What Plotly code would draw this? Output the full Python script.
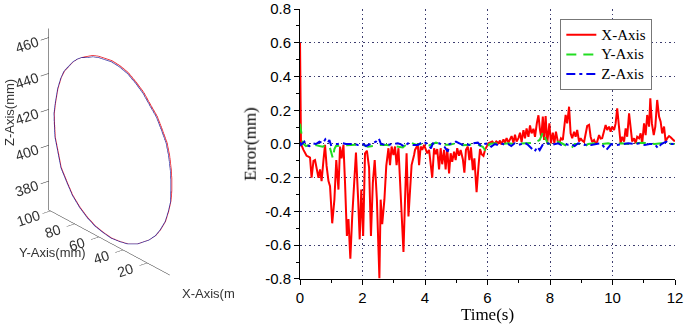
import plotly.graph_objects as go

# ---------------- 3D trajectory (left panel) ----------------
ref_y = [72.8, 68.2, 63.4, 52.6, 45.9, 39.15, 32.4, 26.0, 20.2, 14.9,
         10.9, 6.8, 4.6, 3.3, 2.8, 2.8, 3.6, 5.5, 8.1, 12.2,
         16.2, 21.6, 31.1, 39.15, 45.9, 52.6, 59.3, 66.0, 72.5, 78.8,
         84.8, 89.6, 94.3, 97.0, 99.2, 99.8, 100.0, 98.95, 97.0, 94.3,
         91.7, 87.6, 84.4, 80.85, 77.4, 72.8]
ref_z = [459.2, 461.4, 462.7, 464.2, 463.8, 462.5, 459.5, 456.0, 451.0, 446.7,
         441.2, 435.0, 428.4, 421.3, 415.7, 409.9, 403.5, 397.2, 390.7, 384.6,
         379.9, 375.5, 369.9, 367.0, 365.9, 365.3, 366.0, 367.2, 369.6, 373.0,
         377.6, 383.4, 389.6, 398.0, 404.7, 412.1, 417.7, 423.9, 432.5, 439.5,
         444.1, 448.6, 452.0, 454.8, 456.9, 459.2]
act_y = [72.5, 67.9, 63.2, 52.6, 46.0, 39.3, 32.6, 26.3, 20.6, 15.4,
         11.4, 7.3, 5.2, 3.9, 3.4, 3.4, 3.6, 5.5, 8.1, 12.2,
         16.2, 21.6, 31.1, 39.15, 45.9, 52.6, 59.3, 66.0, 72.5, 78.8,
         84.8, 89.6, 94.3, 97.0, 99.2, 99.8, 100.0, 98.95, 97.0, 94.3,
         91.7, 87.6, 84.4, 80.85, 77.4, 72.5]
act_z = [458.7, 460.8, 462.1, 463.6, 463.2, 461.9, 459.0, 455.5, 450.6, 446.4,
         440.9, 434.7, 428.2, 421.2, 415.7, 410.0, 403.5, 397.2, 390.7, 384.6,
         379.9, 375.5, 369.9, 367.0, 365.9, 365.3, 366.0, 367.2, 369.6, 373.0,
         377.6, 383.4, 389.6, 398.0, 404.7, 412.1, 417.7, 423.9, 432.5, 439.5,
         444.1, 448.6, 452.0, 454.8, 456.9, 458.7]
traj_x = 15.0
y3_ticks = [20, 40, 60, 80, 100]
z3_ticks = [380, 400, 420, 440, 460]

# ---------------- Error curves (right panel) ----------------
t_x = [0, 0.03, 0.11, 0.16, 0.21, 0.27, 0.32, 0.37, 0.43, 0.48,
       0.53, 0.59, 0.64, 0.69, 0.75, 0.80, 0.85, 0.91, 0.96, 1.03,
       1.10, 1.16, 1.23, 1.28, 1.33, 1.39, 1.44, 1.50, 1.55, 1.61,
       1.67, 1.73, 1.79, 1.86, 1.91, 1.96, 2.02, 2.08, 2.14, 2.21,
       2.27, 2.33, 2.39, 2.46, 2.54, 2.58, 2.63, 2.70, 2.76, 2.83,
       2.88, 2.93, 2.99, 3.04, 3.09, 3.15, 3.20, 3.25, 3.31, 3.36,
       3.41, 3.47, 3.52, 3.57, 3.65,
       3.68, 3.77, 3.81, 3.86, 3.91, 3.97, 4.02, 4.07, 4.13, 4.18,
       4.23, 4.29, 4.34, 4.39, 4.45, 4.50, 4.55, 4.61, 4.66, 4.71,
       4.77, 4.82, 4.87, 4.93, 4.98, 5.03, 5.09, 5.14, 5.21, 5.26,
       5.31, 5.37, 5.42, 5.47, 5.53, 5.58, 5.65, 5.71, 5.76, 5.81,
       5.87, 5.92, 5.97, 6.03, 6.09, 6.15, 6.22, 6.28, 6.35, 6.40,
       6.45, 6.51, 6.56, 6.61, 6.67, 6.72, 6.77, 6.83, 6.88, 6.93,
       6.99, 7.04, 7.09, 7.15, 7.20, 7.25, 7.31, 7.36, 7.41, 7.47,
       7.52, 7.58, 7.63, 7.68, 7.72,
       7.77, 7.81, 7.86, 7.91, 7.98, 8.03, 8.09, 8.14, 8.19, 8.25,
       8.30, 8.35, 8.41, 8.45, 8.50, 8.55, 8.61, 8.66, 8.71, 8.77,
       8.82, 8.87, 8.93, 8.98, 9.03, 9.09, 9.14, 9.19, 9.25, 9.30,
       9.35, 9.41, 9.46, 9.51, 9.57, 9.62, 9.67, 9.73, 9.78, 9.83,
       9.89, 9.94, 9.99, 10.05, 10.10, 10.15, 10.21, 10.26, 10.31, 10.37,
       10.42, 10.47, 10.53, 10.58, 10.63, 10.69, 10.74, 10.79, 10.85, 10.90,
       10.95, 11.01, 11.06, 11.11, 11.17, 11.21, 11.26, 11.32, 11.37, 11.43,
       11.49, 11.54, 11.59, 11.65, 11.70, 11.75, 11.81, 11.86, 11.91, 11.97,
       12.0]
err_x = [0.60, 0.0, -0.035, -0.055, -0.07, -0.075, -0.08, -0.20, -0.10, -0.095,
         -0.14, -0.20, -0.15, -0.22, -0.095, -0.005, -0.13, -0.22, -0.25, -0.47,
         -0.33, -0.095, -0.27, -0.015, -0.085, -0.005, -0.23, -0.545, -0.445, -0.68,
         -0.43, -0.21, -0.05, -0.33, -0.565, -0.27, -0.545, -0.055, -0.04, -0.14,
         -0.545, -0.23, -0.095, -0.33, -0.795, -0.33, -0.475, -0.33, -0.13, -0.025,
         -0.125, -0.015, -0.065, -0.015, -0.125, -0.025, -0.23, -0.43, -0.64, -0.33,
         -0.055, -0.43, -0.23, -0.125, -0.065,
         -0.035, -0.005, -0.125, -0.015, -0.035, -0.005, -0.03, -0.055, -0.035, -0.105,
         -0.20, -0.025, -0.06, -0.03, -0.15, -0.025, -0.12, -0.035, -0.15, -0.025,
         -0.175, -0.055, -0.105, -0.045, -0.095, -0.025, -0.07, -0.035, -0.09, -0.17,
         -0.035, -0.015, -0.095, -0.02, -0.155, -0.085, -0.285, -0.135, -0.03, -0.06,
         -0.07, -0.035, -0.015, 0.005, 0.01, 0.015, 0.0, 0.015, 0.005, 0.02,
         -0.003, 0.027, 0.008, 0.035, 0.008, 0.024, 0.047, 0.008, 0.055, 0.014,
         0.035, 0.067, 0.012, 0.082, 0.033, 0.092, 0.043, 0.11, 0.063, 0.09,
         0.043, 0.125, 0.17, 0.082, 0.04,
         0.162, 0.024, 0.166, 0.004, 0.122, 0.004, 0.067, 0.004, 0.073, 0.014,
         0.004, 0.034, 0.024, 0.103, 0.172, 0.122, 0.221, 0.063, 0.034, 0.073,
         0.043, 0.083, 0.014, 0.034, 0.02, 0.012, 0.053, 0.107, 0.113, 0.043,
         0.012, 0.024, 0.004, 0.014, 0.053, 0.032, 0.034, 0.073, 0.113, 0.083,
         0.103, 0.073, 0.103, 0.083, 0.122, 0.211, 0.103, 0.004, 0.043, 0.014,
         0.093, 0.043, 0.182, 0.083, 0.014, 0.034, 0.004, 0.043, 0.034, 0.063,
         0.004, 0.122, 0.053, 0.172, 0.103, 0.271, 0.122, 0.053, 0.103, 0.261,
         0.162, 0.132, 0.063, 0.103, 0.014, 0.034, 0.047, 0.04, 0.028, 0.02,
         0.02]

t_y = [0, 0.03, 0.09, 0.19, 0.30, 0.41, 0.51, 0.62, 0.73, 0.83,
       0.94, 1.00, 1.05, 1.10, 1.15, 1.37, 1.58, 1.79, 1.90, 2.06,
       2.17, 2.33, 2.54, 2.65, 2.86, 3.07, 3.29, 3.45, 3.55, 3.71,
       3.93, 4.14, 4.35, 4.57, 4.78, 4.99, 5.21, 5.42, 5.63, 5.85,
       5.95, 6.06, 6.23, 6.44, 6.66, 6.87, 7.08, 7.30, 7.51, 7.67,
       7.78, 7.85, 7.94, 8.15, 8.26, 8.42, 8.58, 8.68, 8.79, 9.00,
       9.11, 9.22, 9.43, 9.64, 9.86, 10.07, 10.28, 10.50, 10.71, 10.92,
       11.14, 11.35, 11.56, 11.78, 11.99]
err_y = [0.12, 0.08, 0.004, -0.012, -0.006, -0.016, -0.006, -0.012, -0.016, -0.006,
         -0.012, -0.05, -0.085, -0.03, -0.012, -0.008, -0.004, -0.004, -0.008, -0.008,
         -0.016, -0.012, -0.01, -0.004, -0.008, -0.012, -0.02, 0.004, 0.008, -0.004,
         0.0, -0.008, 0.008, -0.004, -0.004, 0.004, -0.008, -0.004, 0.0, -0.016,
         -0.045, 0.0, 0.004, 0.0, 0.004, 0.0, 0.004, 0.008, 0.008, 0.024,
         0.073, 0.034, 0.0, 0.004, 0.014, 0.0, -0.016, -0.026, 0.0, 0.0,
         -0.016, 0.0, 0.004, 0.0, 0.004, -0.004, 0.004, 0.0, 0.004, 0.008,
         0.004, 0.0, 0.004, 0.0, 0.0]

t_z = [0, 0.03, 0.14, 0.19, 0.30, 0.41, 0.51, 0.62, 0.73, 0.81,
       0.89, 0.94, 0.99, 1.10, 1.21, 1.37, 1.47, 1.58, 1.74, 1.85,
       2.01, 2.11, 2.27, 2.43, 2.52, 2.59, 2.75, 2.86, 3.02, 3.13,
       3.23, 3.34, 3.45, 3.61, 3.77, 3.93, 4.09, 4.19, 4.25, 4.35,
       4.46, 4.62, 4.73, 4.78, 4.89, 4.99, 5.10, 5.21, 5.31, 5.42,
       5.53, 5.69, 5.79, 5.90, 6.01, 6.12, 6.23, 6.34, 6.44, 6.55,
       6.66, 6.76, 6.87, 6.98, 7.08, 7.19, 7.30, 7.40, 7.51, 7.59,
       7.67, 7.78, 7.94, 8.04, 8.15, 8.26, 8.36, 8.47, 8.58, 8.68,
       8.79, 8.90, 9.00, 9.11, 9.22, 9.32, 9.48, 9.64, 9.80, 9.96,
       10.12, 10.28, 10.50, 10.71, 10.87, 11.03, 11.19, 11.35, 11.46, 11.56,
       11.72, 11.83, 11.99]
err_z = [0.01, -0.006, 0.014, -0.006, -0.012, 0.004, 0.0, 0.014, 0.004, 0.028,
         0.008, 0.024, -0.006, 0.0, 0.0, 0.004, 0.0, 0.0, 0.0, -0.006,
         0.0, -0.012, 0.0, 0.014, 0.034, 0.0, -0.006, -0.002, 0.0, 0.004,
         -0.002, -0.016, 0.004, -0.006, -0.006, 0.014, 0.0, -0.026, 0.004, 0.0,
         0.004, -0.016, -0.045, 0.0, 0.004, 0.014, 0.004, -0.006, 0.0, -0.006,
         0.004, 0.008, -0.012, 0.0, 0.004, -0.016, 0.0, -0.006, 0.004, -0.006,
         0.0, -0.012, 0.004, -0.006, 0.0, 0.008, -0.006, -0.026, -0.045, -0.016,
         -0.036, 0.0, 0.004, -0.006, 0.0, 0.004, -0.006, 0.0, -0.004, 0.0,
         -0.012, 0.004, 0.0, -0.006, 0.0, -0.006, 0.0, 0.004, -0.036, 0.0,
         -0.006, 0.0, 0.004, 0.0, 0.004, -0.006, 0.0, 0.0, -0.026, 0.0,
         0.014, 0.0, 0.0]

x_ticks = [0, 2, 4, 6, 8, 10, 12]
x_grid = [2, 4, 6, 8, 10]
y_ticks = [-0.8, -0.6, -0.4, -0.2, 0.0, 0.2, 0.4, 0.6, 0.8]
y_ticktext = ["-0.8", "-0.6", "-0.4", "-0.2", "0.0", "0.2", "0.4", "0.6", "0.8"]
y_grid = [-0.6, -0.4, -0.2, 0.0, 0.2, 0.4, 0.6]
legend_names = ["X-Axis", "Y-Axis", "Z-Axis"]

SERIF = "Liberation Serif, Times New Roman, serif"
SANS = "Liberation Sans, Arial, sans-serif"
GRID = "#3c3c6e"
GRID_DASH = "1.5px,3px"

def big(name):
    return "<span style='font-size:15px'>" + name + "</span>"

fig = go.Figure()

fig.add_trace(go.Scatter3d(x=[traj_x] * len(ref_y), y=ref_y, z=ref_z, mode="lines",
                           line=dict(color="#e8202a", width=1.6), showlegend=False,
                           scene="scene"))
fig.add_trace(go.Scatter3d(x=[traj_x - 0.1] * len(act_y), y=act_y, z=act_z, mode="lines",
                           line=dict(color="#2a2aa0", width=1.3), showlegend=False,
                           scene="scene"))

fig.add_trace(go.Scatter(x=[], y=[], xaxis="x2", yaxis="y2", showlegend=False,
                         hoverinfo="skip"))

fig.add_trace(go.Scatter(x=t_x, y=err_x, mode="lines", name=big(legend_names[0]),
                         line=dict(color="#ff0000", width=2)))
fig.add_trace(go.Scatter(x=t_y, y=err_y, mode="lines", name=big(legend_names[1]),
                         line=dict(color="#22dd22", width=2, dash="10px,7px")))
fig.add_trace(go.Scatter(x=t_z, y=err_z, mode="lines", name=big(legend_names[2]),
                         line=dict(color="#0000ee", width=2, dash="9px,4px,3px,4px")))

ax3 = dict(showgrid=False, zeroline=False, showbackground=False, showspikes=False,
           showline=True, linecolor="#222222", linewidth=1, ticks="outside",
           ticklen=2, tickcolor="#222222", title=dict(text=""),
           tickfont=dict(family=SANS, size=13, color="#333333"))

AY = 1.30
AZ = 1.33
XDOM = [0.438, 0.9854]
YDOM = [0.1389, 0.9722]
fig.update_layout(
    width=685, height=324,
    margin=dict(l=0, r=0, t=0, b=0, pad=0, autoexpand=False),
    paper_bgcolor="white", plot_bgcolor="white",
    scene=dict(
        domain=dict(x=[0.0, 0.33], y=[0.071, 1.0]),
        xaxis=dict(visible=False, range=[14, 16]),
        yaxis=dict(ax3, range=[1.5, 101.5], tickvals=y3_ticks),
        zaxis=dict(ax3, range=[364, 465], tickvals=z3_ticks),
        aspectmode="manual", aspectratio=dict(x=0.05 * AY, y=AY, z=AZ),
        camera=dict(eye=dict(x=-0.560 * 1.6, y=-0.712 * 1.6, z=0.423 * 1.6),
                    up=dict(x=0, y=0, z=1), center=dict(x=0, y=0, z=0),
                    projection=dict(type="orthographic")),
        bgcolor="white",
    ),
    xaxis=dict(domain=XDOM, range=[0, 12], tickvals=x_ticks,
               ticks="outside", ticklen=5, tickcolor="black", showline=True,
               linecolor="black", linewidth=1, zeroline=False, showgrid=False,
               minor=dict(dtick=1, ticks="outside", ticklen=3, tickcolor="black", showgrid=False),
               tickfont=dict(family=SANS, size=15, color="black"),
               title=dict(text="Time(s)", font=dict(family=SERIF, size=17, color="black"),
                          standoff=3)),
    yaxis=dict(domain=YDOM, range=[-0.8, 0.8], tickvals=y_ticks,
               ticktext=y_ticktext,
               ticks="outside", ticklen=5, tickcolor="black", showline=True,
               linecolor="black", linewidth=1, zeroline=False, showgrid=False,
               minor=dict(dtick=0.1, ticks="outside", ticklen=3, tickcolor="black", showgrid=False),
               tickfont=dict(family=SANS, size=15, color="black"),
               title=dict(text="Error(mm)", font=dict(family=SERIF, size=17, color="black"),
                          standoff=4)),
    xaxis2=dict(overlaying="x", anchor="y2", range=[0, 12], tickvals=x_grid,
                showgrid=True, gridcolor=GRID, gridwidth=1, griddash=GRID_DASH,
                showticklabels=False, ticks="", showline=False, zeroline=False),
    yaxis2=dict(overlaying="y", anchor="x2", range=[-0.8, 0.8], tickvals=y_grid,
                showgrid=True, gridcolor=GRID, gridwidth=1, griddash=GRID_DASH,
                showticklabels=False, ticks="", showline=False, zeroline=False),
    legend=dict(x=0.818, y=0.9414, xanchor="left", yanchor="top",
                bgcolor="white", bordercolor="#777777", borderwidth=1,
                font=dict(family=SERIF, size=12.8, color="black"),
                tracegroupgap=0),
    annotations=[
        dict(text="Z-Axis(mm)", x=9 / 685, y=1 - 113 / 324, xref="paper", yref="paper",
             xanchor="center", yanchor="middle",
             showarrow=False, textangle=-90, font=dict(family=SANS, size=13, color="#333333")),
        dict(text="Y-Axis(mm)", x=52 / 685, y=1 - 252 / 324, xref="paper", yref="paper",
             xanchor="center", yanchor="middle",
             showarrow=False, font=dict(family=SANS, size=13, color="#333333")),
        dict(text="X-Axis(m", x=180 / 685, y=1 - 293 / 324, xref="paper", yref="paper",
             xanchor="left", yanchor="middle",
             showarrow=False, font=dict(family=SANS, size=13, color="#333333")),
    ],
)

fig.write_html("out.html", post_script="document.body.style.margin='0px';",
               config={"displayModeBar": False})
